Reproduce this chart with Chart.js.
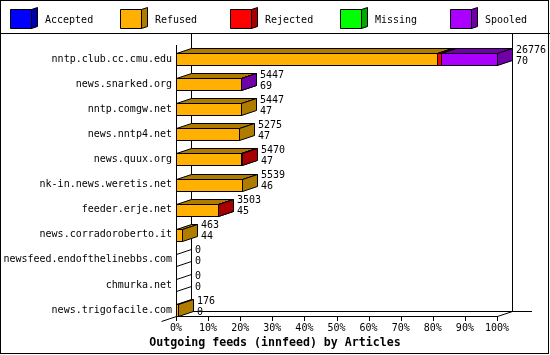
<!DOCTYPE html>
<html>
<head>
<meta charset="utf-8">
<script src="https://cdn.jsdelivr.net/npm/chart.js@4/dist/chart.umd.min.js"></script>
<style>
  html, body { margin: 0; padding: 0; background: #fff; }
</style>
</head>
<body>
<canvas id="feedChart" width="550" height="355"></canvas>
<script>
// innfeed outgoing feeds, article counts per status
const hosts = [
    'nntp.club.cc.cmu.edu', 'news.snarked.org', 'nntp.comgw.net', 'news.nntp4.net',
    'news.quux.org', 'nk-in.news.weretis.net', 'feeder.erje.net', 'news.corradoroberto.it',
    'newsfeed.endofthelinebbs.com', 'chmurka.net', 'news.trigofacile.com'
];
const accepted = [0, 0, 0, 0, 0, 0, 0, 0, 0, 0, 0];
const refused  = [21740, 5410, 5447, 5275, 5430, 5539, 3470, 463, 0, 0, 176];
const rejected = [400, 0, 0, 0, 40, 0, 33, 0, 0, 0, 0];
const missing  = [0, 0, 0, 0, 0, 0, 0, 0, 0, 0, 0];
const spooled  = [4636, 37, 0, 0, 0, 0, 0, 0, 0, 0, 0];
const secondNumbers = [70, 69, 47, 47, 47, 46, 45, 44, 0, 0, 0];
const seriesNames = ['Accepted', 'Refused', 'Rejected', 'Missing', 'Spooled'];
const tickLabels = ['0%', '10%', '20%', '30%', '40%', '50%', '60%', '70%', '80%', '90%', '100%'];
const chartTitle = 'Outgoing feeds (innfeed) by Articles';

const frontColors = ['#0000ff', '#ffb000', '#ff0000', '#00ff00', '#aa00ff'];
const shadeColors = ['#0000a8', '#b07c00', '#a80000', '#00a800', '#7000a8'];

const series = [accepted, refused, rejected, missing, spooled];
const totals = hosts.map((h, i) => series.reduce((s, arr) => s + arr[i], 0));
const maxTotal = Math.max(...totals);

const FONT = '"DejaVu Sans Mono", "Liberation Mono", monospace';
const DX = 15, DY = 5;
const px = v => Math.round(v) + 0.5;

function poly(ctx, pts, fill) {
    ctx.beginPath();
    ctx.moveTo(pts[0][0], pts[0][1]);
    for (let k = 1; k < pts.length; k++) ctx.lineTo(pts[k][0], pts[k][1]);
    ctx.closePath();
    if (fill) { ctx.fillStyle = fill; ctx.fill(); }
    ctx.stroke();
}

function line(ctx, x1, y1, x2, y2) {
    ctx.beginPath();
    ctx.moveTo(x1, y1);
    ctx.lineTo(x2, y2);
    ctx.stroke();
}

function barGeom(chart, d, i) {
    const el = chart.getDatasetMeta(d).data[i];
    const p = el.getProps(['x', 'y', 'base', 'height'], true);
    const left = Math.round(Math.min(p.x, p.base));
    const right = Math.round(Math.max(p.x, p.base));
    const top = Math.round(p.y - p.height / 2);
    const bot = top + Math.round(p.height);
    return { left, right, top, bot, cy: p.y };
}

function floorY(chart) {
    return barGeom(chart, 0, hosts.length - 1).bot;
}

const box3d = {
    id: 'box3d',
    beforeDatasetsDraw(chart) {
        const ctx = chart.ctx;
        const xs = chart.scales.x;
        const area = chart.chartArea;
        const x0 = Math.round(xs.getPixelForValue(0));
        const x1 = Math.round(xs.getPixelForValue(maxTotal));
        const fy = floorY(chart);
        ctx.save();
        ctx.strokeStyle = '#000';
        ctx.lineWidth = 1;
        // back walls and floor
        line(ctx, x0 + DX + 0.5, 34, x0 + DX + 0.5, fy - DY + 0.5);
        line(ctx, x1 + DX + 0.5, 34, x1 + DX + 0.5, fy - DY + 0.5);
        line(ctx, x0 + DX, fy - DY + 0.5, x1 + DX + 20, fy - DY + 0.5);
        // front floor and depth edges
        line(ctx, x0, fy + 0.5, x1 + 1, fy + 0.5);
        line(ctx, x0 + 0.5, fy + 0.5, x0 + 0.5 - DX, fy + 0.5 + DY);
        line(ctx, x1 + 0.5, fy + 0.5, x1 + 0.5 + DX, fy + 0.5 - DY);
        line(ctx, x0 + 0.5, Math.round(area.top) - 2, x0 + 0.5, fy + 1);
        xs.ticks.forEach(t => {
            const tx = px(xs.getPixelForValue(t.value));
            line(ctx, tx, fy + 1, tx, fy + 5);
        });

        // bars: front, top and side faces, left to right
        hosts.forEach((h, i) => {
            if (totals[i] === 0) {
                const g = barGeom(chart, 0, i);
                line(ctx, g.left + 0.5, g.top + 0.5, g.left + 0.5 + DX, g.top + 0.5 - DY);
                line(ctx, g.left + 0.5, g.bot + 0.5, g.left + 0.5 + DX, g.bot + 0.5 - DY);
                return;
            }
            series.forEach((arr, d) => {
                if (arr[i] === 0) return;
                const g = barGeom(chart, d, i);
                const l = g.left + 0.5, r = g.right + 0.5, t = g.top + 0.5, b = g.bot + 0.5;
                poly(ctx, [[l, t], [r, t], [r, b], [l, b]], frontColors[d]);
                poly(ctx, [[l, t], [r, t], [r + DX, t - DY], [l + DX, t - DY]], shadeColors[d]);
                poly(ctx, [[r, t], [r + DX, t - DY], [r + DX, b - DY], [r, b]], shadeColors[d]);
            });
        });
        ctx.restore();
        return false;
    },
    afterDraw(chart) {
        const ctx = chart.ctx;
        ctx.save();
        ctx.strokeStyle = '#000';
        ctx.lineWidth = 1;
        // value labels at bar ends
        ctx.fillStyle = '#000';
        ctx.font = '10px ' + FONT;
        ctx.textAlign = 'left';
        ctx.textBaseline = 'middle';
        hosts.forEach((h, i) => {
            const g = barGeom(chart, series.length - 1, i);
            const tx = g.right + DX + 4;
            ctx.fillText(String(totals[i]), tx, g.cy - 9);
            ctx.fillText(String(secondNumbers[i]), tx, g.cy + 2);
        });
        // legend with cubes
        seriesNames.forEach((name, d) => {
            const bx = 10 + d * 110, by = 9, bw = 21, bh = 19;
            poly(ctx, [[bx + bw + 0.5, by + 0.5], [bx + bw + 6.5, by - 1.5], [bx + bw + 6.5, by + bh - 1.5], [bx + bw + 0.5, by + bh + 0.5]], shadeColors[d]);
            poly(ctx, [[bx + 0.5, by + 0.5], [bx + bw + 0.5, by + 0.5], [bx + bw + 0.5, by + bh + 0.5], [bx + 0.5, by + bh + 0.5]], frontColors[d]);
            ctx.fillStyle = '#000';
            ctx.fillText(name, bx + 35, 20);
        });
        // axis title, centred on the whole image
        ctx.font = 'bold 11.6px ' + FONT;
        ctx.textAlign = 'center';
        ctx.fillText(chartTitle, 275, 342.5);
        line(ctx, 0, 33.5, 550, 33.5);
        ctx.strokeRect(0.5, 0.5, 548, 353);
        ctx.restore();
    }
};

const ctx = document.getElementById('feedChart').getContext('2d');
const feedChart = new Chart(ctx, {
    type: 'bar',
    data: {
        labels: hosts,
        datasets: series.map((arr, d) => ({
            label: seriesNames[d],
            data: arr,
            backgroundColor: frontColors[d],
            borderColor: '#000',
            borderWidth: 1,
            categoryPercentage: 1,
            barThickness: 12
        }))
    },
    options: {
        indexAxis: 'y',
        responsive: false,
        animation: false,
        events: [],
        layout: { padding: { top: 46.5, right: 53, left: 0, bottom: 21.62 } },
        scales: {
            x: {
                stacked: true,
                min: 0,
                max: maxTotal,
                grid: { display: false, drawTicks: false },
                border: { display: false },
                afterBuildTicks: scale => {
                    scale.ticks = tickLabels.map((t, k) => ({ value: maxTotal * k / 10 }));
                },
                afterFit: scale => { scale.height = 10.78; },
                ticks: {
                    autoSkip: false,
                    maxRotation: 0,
                    padding: 0,
                    color: '#000',
                    font: { family: FONT, size: 10 },
                    callback: (v, k) => tickLabels[k]
                }
            },
            y: {
                stacked: true,
                grid: { display: false, drawTicks: false },
                border: { display: false },
                afterFit: scale => { scale.width = 176; },
                ticks: {
                    autoSkip: false,
                    padding: 4,
                    color: '#000',
                    font: { family: FONT, size: 10 }
                }
            }
        },
        plugins: {
            legend: { display: false },
            tooltip: { enabled: false },
            title: { display: false }
        }
    },
    plugins: [box3d]
});
</script>
</body>
</html>
